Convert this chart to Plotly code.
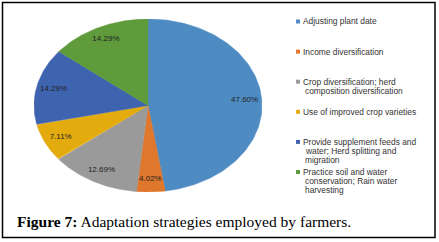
import numpy as np
import plotly.graph_objects as go

# ---- data ----
categories = [
    "Adjusting plant date",
    "Income diversification",
    "Crop diversification; herd<br>composition diversification",
    "Use of improved crop varieties",
    "Provide supplement feeds and<br>water; Herd splitting and<br>migration",
    "Practice soil and water<br>conservation; Rain water<br>harvesting",
]
values = [47.60, 4.02, 12.69, 7.11, 14.29, 14.29]
value_labels = ["47.60%", "4.02%", "12.69%", "7.11%", "14.29%", "14.29%"]
colors = ["#4F8BC3", "#DF772D", "#9A9A9A", "#E4AB0E", "#3E64B0", "#5F9A3B"]
caption_bold = "Figure 7:"
caption_rest = " Adaptation strategies employed by farmers."

W, H = 439, 242
fig = go.Figure()

total = sum(values)
cum = np.concatenate([[0], np.cumsum(values)]) / total
label_r = 0.85
for i, v in enumerate(values):
    t = np.linspace(cum[i], cum[i + 1], 120) * 2 * np.pi  # clockwise from top
    xs = np.concatenate([[0], np.sin(t), [0]])
    ys = np.concatenate([[0], np.cos(t), [0]])
    fig.add_trace(go.Scatter(x=xs, y=ys, mode="lines", fill="toself",
                             fillcolor=colors[i], line=dict(color=colors[i], width=0.5),
                             hoverinfo="skip", showlegend=False))
mids = (cum[:-1] + cum[1:]) / 2 * 2 * np.pi
fig.add_trace(go.Scatter(x=label_r * np.sin(mids), y=label_r * np.cos(mids), mode="text",
                         text=value_labels, textposition="middle center",
                         textfont=dict(family="Liberation Sans", size=8, color="#222222"),
                         hoverinfo="skip", showlegend=False))

# pie box in pixels
px0, px1, py0, py1 = 34, 262, 19, 192
fig.update_layout(
    width=W, height=H, margin=dict(l=0, r=0, t=0, b=0),
    paper_bgcolor="white", plot_bgcolor="white",
    xaxis=dict(domain=[px0 / W, px1 / W], range=[-1, 1], visible=False, fixedrange=True),
    yaxis=dict(domain=[1 - py1 / H, 1 - py0 / H], range=[-1, 1], visible=False, fixedrange=True),
    showlegend=False,
)

# legend (manual, Excel-like spacing)
ann = []
shapes = []
for i, (name, c) in enumerate(zip(categories, colors)):
    y0 = 21.5 + 30.1 * i
    shapes.append(dict(type="rect", xref="paper", yref="paper",
                       x0=296 / W, x1=300 / W, y0=1 - (y0 + 2) / H, y1=1 - (y0 - 2) / H,
                       fillcolor=c, line=dict(width=0)))
    for j, line in enumerate(name.split("<br>")):
        ann.append(dict(xref="paper", yref="paper", x=(300.5 if j == 0 else 303) / W,
                        y=1 - (y0 + 9 * j) / H, xanchor="left", yanchor="middle",
                        text=line, showarrow=False,
                        font=dict(family="Liberation Sans", size=8.4, color="#333333")))

ann.append(dict(xref="paper", yref="paper", x=15 / W, y=1 - 221 / H, xanchor="left",
                yanchor="middle", showarrow=False,
                text="<b>" + caption_bold + "</b>" + caption_rest,
                font=dict(family="Liberation Serif", size=15.5, color="black")))
shapes.append(dict(type="rect", xref="paper", yref="paper",
                   x0=2.5 / W, x1=435 / W, y0=1 - 237.5 / H, y1=1 - 2.5 / H,
                   line=dict(color="black", width=1.5)))
fig.update_layout(annotations=ann, shapes=shapes)
fig.write_html("out.html", config={"displayModeBar": False},
               post_script="document.body.style.margin='0';document.body.style.overflow='hidden';")
